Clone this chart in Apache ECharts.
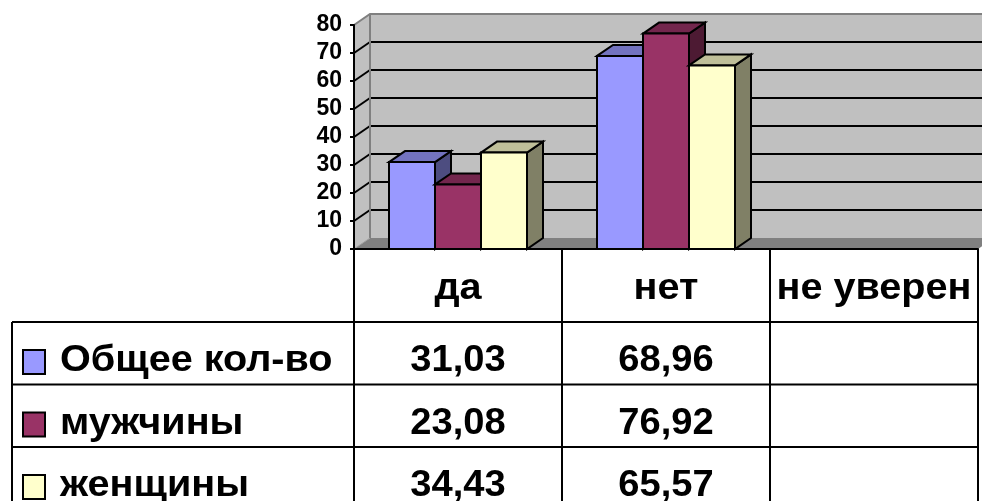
<!DOCTYPE html>
<html>
<head>
<meta charset="utf-8">
<script src="https://cdn.jsdelivr.net/npm/echarts@6/dist/echarts.min.js"></script>
<style>
  html, body { margin: 0; padding: 0; background: #ffffff; }
  #chart { width: 982px; height: 501px; }
</style>
</head>
<body>
<div id="chart"></div>
<script>
// Survey answers, percent per group
const categories = ['да', 'нет', 'не уверен'];
const seriesNames = ['Общее кол-во', 'мужчины', 'женщины'];
const totalValues = [31.03, 68.96, null];
const menValues = [23.08, 76.92, null];
const womenValues = [34.43, 65.57, null];
const yTickValues = [0, 10, 20, 30, 40, 50, 60, 70, 80];

const seriesValues = [totalValues, menValues, womenValues];

// Face colours for the 3D columns: front, top, side
const palette = [
  { front: '#9999FF', top: '#7373BF', side: '#4D4D80' },
  { front: '#993366', top: '#73264D', side: '#4D1A33' },
  { front: '#FFFFCC', top: '#BFBF99', side: '#808066' }
];

// Depth offset of the 3D box (pixels)
const DX = 16, DY = -11;
const FONT = '"Liberation Sans", Arial, sans-serif';

const chart = echarts.init(document.getElementById('chart'), null, { renderer: 'canvas' });

function wallRenderer(params, api) {
  const cs = params.coordSys;
  const x0 = cs.x, x1 = cs.x + cs.width;
  const yTop = api.coord([0, yTickValues[yTickValues.length - 1]])[1];
  const yBot = api.coord([0, yTickValues[0]])[1];
  const children = [];
  // back wall
  children.push({ type: 'polygon', shape: { points: [[x0 + DX, yTop + DY], [x1 + DX, yTop + DY], [x1 + DX, yBot + DY], [x0 + DX, yBot + DY]] },
    style: { fill: '#C0C0C0', stroke: null } });
  // left side wall
  children.push({ type: 'polygon', shape: { points: [[x0, yBot], [x0 + DX, yBot + DY], [x0 + DX, yTop + DY], [x0, yTop]] },
    style: { fill: '#C0C0C0', stroke: null } });
  // floor
  children.push({ type: 'polygon', shape: { points: [[x0, yBot], [x1, yBot], [x1 + DX, yBot + DY], [x0 + DX, yBot + DY]] },
    style: { fill: '#808080', stroke: null } });
  // gridlines on the back wall and the side wall
  yTickValues.forEach(function (v, i) {
    const y = api.coord([0, v])[1];
    if (i > 0 && i < yTickValues.length - 1) {
      children.push({ type: 'line', shape: { x1: x0 + DX, y1: y + DY, x2: x1 + DX, y2: y + DY }, style: { stroke: '#000', lineWidth: 2 } });
      children.push({ type: 'line', shape: { x1: x0, y1: y, x2: x0 + DX, y2: y + DY }, style: { stroke: '#000', lineWidth: 2 } });
    }
  });
  // wall edges
  children.push({ type: 'polyline', shape: { points: [[x0, yTop], [x0 + DX, yTop + DY], [x1 + DX, yTop + DY]] }, style: { stroke: '#808080', lineWidth: 2, fill: null } });
  children.push({ type: 'line', shape: { x1: x0 + DX, y1: yTop + DY, x2: x0 + DX, y2: yBot + DY }, style: { stroke: '#808080', lineWidth: 2 } });
  children.push({ type: 'line', shape: { x1: x0, y1: yBot, x2: x0 + DX, y2: yBot + DY }, style: { stroke: '#A0A0A0', lineWidth: 1 } });
  return { type: 'group', children: children };
}

function barRenderer(s) {
  return function (params, api) {
    const v = api.value(1);
    if (v == null || isNaN(v)) return null;
    const cat = api.value(0);
    const band = api.size([1, 0])[0];
    const barW = band * 46 / 208;
    const groupW = barW * seriesValues.length;
    const top = api.coord([cat, v]);
    const base = api.coord([cat, 0]);
    const xl = top[0] - groupW / 2 + s * barW;
    const xr = xl + barW;
    const yt = top[1], yb = base[1];
    const c = palette[s];
    const line = { stroke: '#000', lineWidth: 2, lineJoin: 'miter' };
    return {
      type: 'group',
      children: [
        { type: 'polygon', shape: { points: [[xr, yt], [xr + DX, yt + DY], [xr + DX, yb + DY], [xr, yb]] },
          style: Object.assign({ fill: c.side }, line) },
        { type: 'polygon', shape: { points: [[xl, yt], [xl + DX, yt + DY], [xr + DX, yt + DY], [xr, yt]] },
          style: Object.assign({ fill: c.top }, line) },
        { type: 'rect', shape: { x: xl, y: yt, width: barW, height: yb - yt },
          style: Object.assign({ fill: c.front }, line) }
      ]
    };
  };
}

const series = [{
  type: 'custom',
  name: 'walls',
  silent: true,
  z: 1,
  data: [[0, 0]],
  renderItem: wallRenderer
}];
seriesValues.forEach(function (vals, s) {
  series.push({
    type: 'custom',
    name: seriesNames[s],
    z: 2,
    data: vals.map(function (v, i) { return [i, v == null ? NaN : v]; }),
    renderItem: barRenderer(s)
  });
});

chart.setOption({
  animation: false,
  backgroundColor: '#ffffff',
  grid: { left: 354, right: 4, top: 25, bottom: 252, containLabel: false },
  xAxis: {
    type: 'category',
    data: categories,
    axisLine: { show: true, lineStyle: { color: '#000', width: 2 } },
    axisTick: { show: false },
    axisLabel: { show: false },
    splitLine: { show: false },
    z: 5
  },
  yAxis: {
    type: 'value',
    min: yTickValues[0],
    max: yTickValues[yTickValues.length - 1],
    interval: 10,
    axisLine: { show: true, lineStyle: { color: '#000', width: 2 } },
    axisTick: { show: true, inside: false, length: 4, lineStyle: { color: '#000', width: 2 } },
    axisLabel: { color: '#000', fontFamily: FONT, fontWeight: 'bold', fontSize: 23, margin: 12 },
    splitLine: { show: false },
    z: 5
  },
  series: series
});

// Data table under the plot, aligned with the category bands
(function buildTable() {
  const centers = categories.map(function (c, i) { return chart.convertToPixel({ xAxisIndex: 0 }, i); });
  const band = centers[1] - centers[0];
  const edges = [centers[0] - band / 2].concat(centers.map(function (c) { return c + band / 2; }));
  const yAxisTop = chart.convertToPixel({ yAxisIndex: 0 }, 0);
  const headerBottom = yAxisTop + 73;
  const rowH = 62.5;
  const tableLeft = 12;
  const bottom = 501 + 20;
  const g = [];
  const ls = { stroke: '#000', lineWidth: 2 };

  // horizontal rules
  for (let r = 0; r < seriesNames.length; r++) {
    const y = headerBottom + r * rowH;
    g.push({ type: 'line', shape: { x1: tableLeft, y1: y, x2: edges[edges.length - 1], y2: y }, style: ls, z: 10 });
  }
  // vertical rules
  g.push({ type: 'line', shape: { x1: tableLeft, y1: headerBottom, x2: tableLeft, y2: bottom }, style: ls, z: 10 });
  edges.forEach(function (x) {
    g.push({ type: 'line', shape: { x1: x, y1: yAxisTop, x2: x, y2: bottom }, style: ls, z: 10 });
  });

  const txt = { fill: '#000', fontFamily: FONT, fontWeight: 'bold', fontSize: 37, textVerticalAlign: 'middle' };
  const wordScale = 1.07, numScale = 1.03;
  // header
  categories.forEach(function (c, i) {
    g.push({ type: 'text', x: centers[i], y: yAxisTop + 40, scaleX: wordScale,
      style: Object.assign({ text: c, textAlign: 'center' }, txt), z: 10 });
  });
  // rows
  seriesNames.forEach(function (name, r) {
    const rowTop = headerBottom + r * rowH;
    const yMid = rowTop + 39;
    g.push({ type: 'rect', shape: { x: 23, y: rowTop + 28, width: 22, height: 24 },
      style: { fill: palette[r].front, stroke: '#000', lineWidth: 2 }, z: 10 });
    g.push({ type: 'text', x: 60, y: yMid, scaleX: wordScale,
      style: Object.assign({ text: name, textAlign: 'left' }, txt), z: 10 });
    seriesValues[r].forEach(function (v, i) {
      if (v == null) return;
      g.push({ type: 'text', x: centers[i], y: yMid, scaleX: numScale,
        style: Object.assign({ text: v.toFixed(2).replace('.', ','), textAlign: 'center' }, txt), z: 10 });
    });
  });
  chart.setOption({ graphic: g });
})();
</script>
</body>
</html>
